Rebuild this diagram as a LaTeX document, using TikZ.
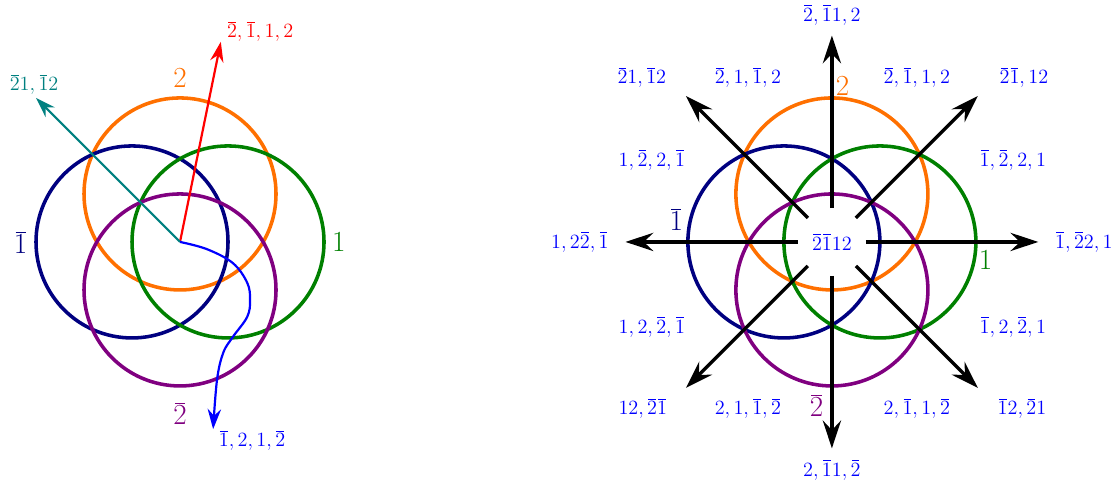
\documentclass[tikz,border=0pt]{standalone}
\usetikzlibrary{arrows.meta,calc}
\definecolor{corange}{RGB}{255,112,0}
\definecolor{cnavy}{RGB}{0,0,128}
\definecolor{cgreen}{RGB}{0,128,0}
\definecolor{cpurple}{RGB}{128,0,128}
\definecolor{cteal}{RGB}{0,128,128}
\newcommand{\ob}[1]{\mkern1mu\overline{\mkern-1mu#1\mkern-1mu}\mkern1mu}
\begin{document}
\begin{tikzpicture}[
  circ/.style={line width=2.1pt},
  big/.style={font=\LARGE, inner sep=0pt},
  lab/.style={font=\large, text=blue, inner sep=0pt},
  thinarrow/.style={line width=1.3pt, -{Stealth[length=4.2mm,width=2.8mm,inset=1.4mm]}},
  bigarrow/.style={line width=2pt, black, -{Stealth[length=5.8mm,width=3.8mm,inset=2mm]}}
]
\useasboundingbox (-3.75,-5.02) rectangle (19.54,5.04);

% ---------------- left diagram ----------------
\coordinate (L) at (0,0);
\draw[circ,corange] ($(L)+(0,1)$) circle (2);
\draw[circ,cnavy] ($(L)+(-1,0)$) circle (2);
\draw[circ,cgreen] ($(L)+(1,0)$) circle (2);
\draw[circ,cpurple] ($(L)+(0,-1)$) circle (2);

\node[big, text=corange] (l2) at (0,3.41) {$2$};
\node[big, text=cgreen] (l1) at (3.31,0) {$1$};
\node[big, text=cnavy] (l1b) at (-3.32,0) {$\ob{1}$};
\node[big, text=cpurple] (l2b) at (0,-3.58) {$\ob{2}$};

\coordinate (redtip) at (0.85,4.17);
\coordinate (tealtip) at (-3,3);
\coordinate (bluetip) at (0.69,-3.9);
\draw[thinarrow, red] (L) -- (redtip);
\draw[thinarrow, cteal] (L) -- (tealtip);
\draw[thinarrow, blue] plot[smooth, tension=0.6] coordinates {(L) (0.56,-0.15) (1.1,-0.44) (1.4,-0.85) (1.46,-1.21) (1.4,-1.56) (1.1,-1.98) (0.9,-2.31) (0.77,-2.88) (bluetip)};

\node[font=\large, text=red, inner sep=0pt] (redlab) at (1.67,4.38) {$\ob{2},\ob{1},1,2$};
\node[font=\large, text=cteal, inner sep=0pt] (teallab) at (-3.04,3.28) {$\ob{2}1,\ob{1}2$};
\node[lab] (bluelab) at (1.5,-4.13) {$\ob{1},2,1,\ob{2}$};

% ---------------- right diagram ----------------
\coordinate (R) at (13.58,0);
\draw[circ,corange] ($(R)+(0,1)$) circle (2);
\draw[circ,cnavy] ($(R)+(-1,0)$) circle (2);
\draw[circ,cgreen] ($(R)+(1,0)$) circle (2);
\draw[circ,cpurple] ($(R)+(0,-1)$) circle (2);

\node[circle, minimum size=1.4cm, inner sep=0pt, font=\large, text=blue] (c) at (R) {$\ob{2}\ob{1}12$};
\foreach \a in {0,45,...,315}{
  \coordinate (e\a) at ($(c)+(\a:4.3)$);
  \draw[bigarrow] (c.\a) -- (e\a);
}

\node[big, text=corange] (r2) at ($(R)+(0.22,3.25)$) {$2$};
\node[big, text=cnavy] (r1b) at ($(R)+(-3.24,0.46)$) {$\ob{1}$};
\node[big, text=cgreen] (r1) at ($(R)+(3.2,-0.375)$) {$1$};
\node[big, text=cpurple] (r2b) at ($(R)+(-0.32,-3.4)$) {$\ob{2}$};

\node[lab] (t0) at ($(R)+(0,4.73)$) {$\ob{2},\ob{1}1,2$};
\node[lab] (t1) at ($(R)+(-3.96,3.43)$) {$\ob{2}1,\ob{1}2$};
\node[lab] (t2) at ($(R)+(-1.75,3.43)$) {$\ob{2},1,\ob{1},2$};
\node[lab] (t3) at ($(R)+(1.77,3.43)$) {$\ob{2},\ob{1},1,2$};
\node[lab] (t4) at ($(R)+(4.0,3.43)$) {$\ob{2}\ob{1},12$};
\node[lab] (m1) at ($(R)+(-3.75,1.71)$) {$1,\ob{2},2,\ob{1}$};
\node[lab] (m2) at ($(R)+(3.77,1.71)$) {$\ob{1},\ob{2},2,1$};
\node[lab] (m3) at ($(R)+(-5.25,0)$) {$1,2\ob{2},\ob{1}$};
\node[lab] (m4) at ($(R)+(5.25,0)$) {$\ob{1},\ob{2}2,1$};
\node[lab] (m5) at ($(R)+(-3.75,-1.77)$) {$1,2,\ob{2},\ob{1}$};
\node[lab] (m6) at ($(R)+(3.77,-1.77)$) {$\ob{1},2,\ob{2},1$};
\node[lab] (b1) at ($(R)+(-3.94,-3.46)$) {$12,\ob{2}\ob{1}$};
\node[lab] (b2) at ($(R)+(-1.75,-3.46)$) {$2,1,\ob{1},\ob{2}$};
\node[lab] (b3) at ($(R)+(1.77,-3.46)$) {$2,\ob{1},1,\ob{2}$};
\node[lab] (b4) at ($(R)+(3.96,-3.46)$) {$\ob{1}2,\ob{2}1$};
\node[lab] (b0) at ($(R)+(0,-4.75)$) {$2,\ob{1}1,\ob{2}$};
\end{tikzpicture}
\end{document}
